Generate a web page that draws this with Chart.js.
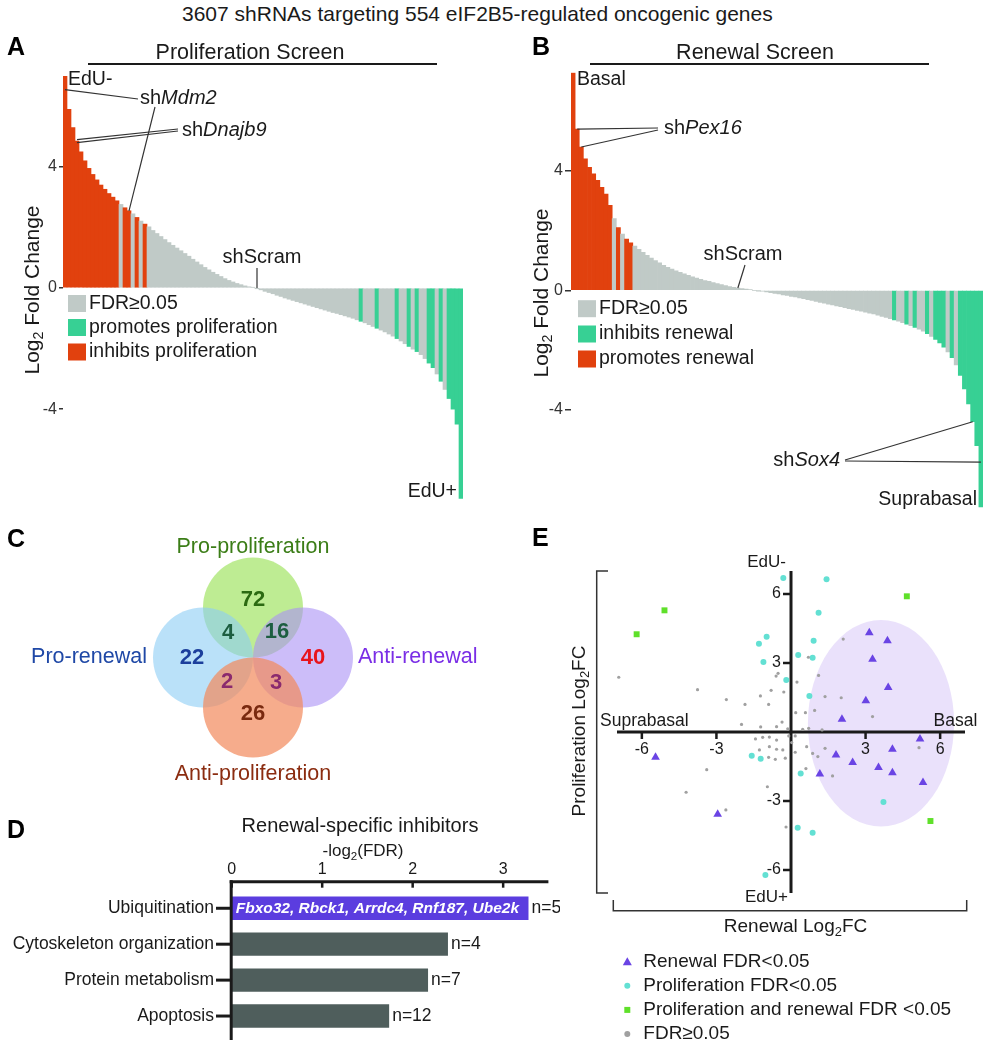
<!DOCTYPE html>
<html>
<head>
<meta charset="utf-8">
<title>eIF2B5 shRNA screens</title>
<script src="https://cdn.jsdelivr.net/npm/chart.js@4.4.1/dist/chart.umd.min.js"></script>
<style>
  html, body { margin: 0; padding: 0; background: #fff; }
  #page { position: relative; width: 995px; height: 1050px; overflow: hidden; }
  #page canvas { position: absolute; }
  #figTitle { position: absolute; left: 182px; top: 3px; white-space: nowrap;
    font: 21px 'Liberation Sans', Arial, sans-serif; line-height: 21px; color: #1a1a1a; }
</style>
</head>
<body>
<div id="page">
  <div id="figTitle">3607 shRNAs targeting 554 eIF2B5-regulated oncogenic genes</div>
  <canvas id="chartA" width="495" height="515" style="left:0;top:0"></canvas>
  <canvas id="chartB" width="500" height="520" style="left:495px;top:0"></canvas>
  <canvas id="chartC" width="506" height="275" style="left:0;top:520px"></canvas>
  <canvas id="chartD" width="560" height="250" style="left:0;top:800px"></canvas>
  <canvas id="chartE" width="475" height="530" style="left:520px;top:520px"></canvas>
</div>
<script>
// ---- A: proliferation screen, log2 fold change, shRNAs ranked high to low ----
const lfcProlif = [
  7.0, 5.9, 5.3, 4.85, 4.5, 4.2, 3.95, 3.75, 3.57, 3.4,
  3.26, 3.12, 3.0, 2.88, 2.76, 2.65, 2.55, 2.45, 2.33, 2.21,
  2.11, 2.02, 1.9, 1.8, 1.7, 1.6, 1.5, 1.41, 1.32, 1.23,
  1.14, 1.05, 0.95, 0.86, 0.77, 0.68, 0.6, 0.52, 0.45, 0.38,
  0.31, 0.25, 0.2, 0.15, 0.11, 0.07, 0.04, 0.02, -0.01, -0.06,
  -0.11, -0.15, -0.19, -0.24, -0.28, -0.33, -0.37, -0.41, -0.45, -0.49,
  -0.53, -0.57, -0.61, -0.65, -0.69, -0.73, -0.77, -0.81, -0.84, -0.88,
  -0.92, -0.96, -1.0, -1.05, -1.1, -1.15, -1.21, -1.27, -1.33, -1.39,
  -1.45, -1.52, -1.59, -1.67, -1.75, -1.84, -1.93, -2.02, -2.1, -2.2,
  -2.33, -2.48, -2.63, -2.84, -3.08, -3.35, -3.65, -4.0, -4.5, -6.95
];
// FDR class per bar: o = orange class, g = FDR>=0.05, t = green class
const classProlif = (
  'oooooooooo' + 'oooogoogog' + 'oggggggggg' + 'gggggggggg' + 'gggggggggg' +
  'gggggggggg' + 'gggggggggg' + 'ggggtgggtg' + 'gggtggtgtg' + 'gttgtgtttt').split('');
const legendProlif = { g: 'FDR≥0.05', t: 'promotes proliferation', o: 'inhibits proliferation' };

// ---- B: renewal screen ----
const lfcRenewal = [
  7.27, 5.4, 4.8, 4.4, 4.12, 3.9, 3.68, 3.45, 3.22, 2.85,
  2.4, 2.1, 1.88, 1.72, 1.59, 1.48, 1.37, 1.27, 1.17, 1.08,
  1.0, 0.92, 0.84, 0.77, 0.71, 0.65, 0.6, 0.55, 0.5, 0.45,
  0.41, 0.37, 0.33, 0.3, 0.26, 0.23, 0.19, 0.16, 0.13, 0.1,
  0.08, 0.06, 0.04, 0.02, 0.0, -0.01, -0.03, -0.05, -0.08, -0.1,
  -0.12, -0.15, -0.17, -0.2, -0.22, -0.25, -0.28, -0.31, -0.34, -0.37,
  -0.4, -0.43, -0.46, -0.49, -0.52, -0.55, -0.58, -0.61, -0.64, -0.67,
  -0.7, -0.73, -0.76, -0.79, -0.83, -0.87, -0.91, -0.95, -0.99, -1.03,
  -1.08, -1.13, -1.18, -1.24, -1.3, -1.37, -1.45, -1.54, -1.64, -1.76,
  -1.9, -2.06, -2.25, -2.5, -2.85, -3.3, -3.8, -4.4, -5.2, -7.25
];
const classRenewal = (
  'oooooooooo' + 'gogooggggg' + 'gggggggggg' + 'gggggggggg' + 'gggggggggg' +
  'gggggggggg' + 'gggggggggg' + 'ggggggggtg' + 'gtgtggtgtt' + 'tgtgtttttt').split('');
const legendRenewal = { g: 'FDR≥0.05', t: 'inhibits renewal', o: 'promotes renewal' };
const ticksScreen = [-4, 0, 4];

// ---- C: overlap of hits ----
const vennSets = ['Pro-proliferation', 'Pro-renewal', 'Anti-renewal', 'Anti-proliferation'];
const vennRegions = ['Pro-proliferation', 'Pro-proliferation & Pro-renewal', 'Pro-proliferation & Anti-renewal',
  'Pro-renewal', 'Anti-renewal', 'Pro-renewal & Anti-proliferation', 'Anti-renewal & Anti-proliferation', 'Anti-proliferation'];
const vennCounts = [72, 4, 16, 22, 40, 2, 3, 26];

// ---- D: renewal-specific inhibitors ----
const termsD = ['Ubiquitination', 'Cytoskeleton organization', 'Protein metabolism', 'Apoptosis'];
const fdrD = [3.28, 2.39, 2.17, 1.74];
const countsD = [5, 4, 7, 12];
const genesD = ['Fbxo32, Rbck1, Arrdc4, Rnf187, Ube2k', '', '', ''];
const ticksD = [0, 1, 2, 3];

// ---- E: renewal log2FC (x) vs proliferation log2FC (y) ----
const renewalHits = [[3.15, 4.32], [3.88, 3.97], [3.28, 3.16], [3.91, 1.93], [3.01, 1.36], [2.05, 0.55],
  [5.19, -0.3], [4.08, -0.75], [1.81, -1.0], [2.48, -1.33], [3.52, -1.54], [4.08, -1.77], [1.16, -1.83],
  [5.31, -2.2], [-5.45, -1.1], [-2.95, -3.58]];
const prolifHits = [[-0.31, 6.7], [1.43, 6.64], [1.11, 5.19], [-0.98, 4.14], [-1.29, 3.84], [0.91, 3.97],
  [0.29, 3.35], [0.87, 3.23], [-1.11, 3.04], [-0.19, 2.26], [0.74, 1.57], [-1.58, -1.03], [-1.22, -1.16],
  [0.39, -1.8], [3.72, -3.04], [0.27, -4.16], [0.87, -4.38], [-1.03, -6.22]];
const bothHits = [[-5.09, 5.29], [-6.21, 4.25], [4.66, 5.9], [5.61, -3.87]];
const notSig = [[-6.93, 2.38], [-3.76, 1.84], [-2.6, 1.41], [-1.85, 1.2], [-1.99, 0.33], [-1.22, 0.22],
  [-0.9, 1.2], [-1.23, 1.57], [-0.8, 1.81], [-0.6, 2.43], [-0.52, 2.55], [-0.29, 1.74], [0.24, 2.17],
  [0.7, 3.25], [1.11, 2.46], [2.1, 4.04], [1.37, 1.54], [2.02, 1.49], [0.19, 0.84], [0.58, 0.84],
  [0.95, 0.94], [3.28, 0.67], [-0.36, 0.43], [-0.13, 0.14], [-0.58, 0.23], [0.47, 0.12], [0.71, 0.16],
  [1.25, 0.09], [-1.43, -0.3], [-1.14, -0.23], [-0.87, -0.22], [-0.58, -0.35], [-0.09, -0.17], [0.17, -0.17],
  [-1.27, -0.78], [-0.87, -0.64], [-0.58, -0.75], [-0.33, -0.78], [0.03, -0.46], [0.63, -0.64], [0.87, -0.93],
  [1.08, -1.07], [1.37, -0.71], [-0.9, -1.1], [-0.63, -1.19], [-0.23, -1.14], [0.17, -0.88], [1.67, -1.91],
  [5.15, -0.68], [-3.39, -1.64], [-0.95, -2.38], [-4.22, -2.62], [-2.62, -3.39], [-0.2, -4.13], [0.6, -1.59]];
const ticksE = [-6, -3, 3, 6];

// ---------------------------------------------------------------
const FAM = "'Liberation Sans', Arial, Helvetica, sans-serif";
const INK = '#1a1a1a';
const barColor = { o: '#e1410e', g: '#c0cac7', t: '#37d094' };

function setFont(ctx, size, style) {
  ctx.font = (style ? style + ' ' : '') + size + 'px ' + FAM;
}
function text(ctx, str, x, y, size, align, color, style) {
  setFont(ctx, size, style);
  ctx.fillStyle = color || INK;
  ctx.textAlign = align || 'left';
  ctx.textBaseline = 'middle';
  ctx.fillText(str, x, y);
}
function line(ctx, x1, y1, x2, y2, w, color) {
  ctx.beginPath();
  ctx.moveTo(x1, y1);
  ctx.lineTo(x2, y2);
  ctx.lineWidth = w;
  ctx.strokeStyle = color || INK;
  ctx.stroke();
}
// parts: [text, kind] with kind '' normal, 'i' italic, 's' subscript
function richText(ctx, parts, x, y, size, align, color) {
  const fontFor = p => setFont(ctx, p[1] === 's' ? size * 0.68 : size, p[1] === 'i' ? 'italic' : '');
  const widths = parts.map(p => { fontFor(p); return ctx.measureText(p[0]).width; });
  const total = widths.reduce((a, b) => a + b, 0);
  let cx = align === 'center' ? x - total / 2 : align === 'right' ? x - total : x;
  ctx.fillStyle = color || INK;
  ctx.textAlign = 'left';
  ctx.textBaseline = 'middle';
  parts.forEach((p, k) => {
    fontFor(p);
    ctx.fillText(p[0], cx, p[1] === 's' ? y + size * 0.3 : y);
    cx += widths[k];
  });
}

// decorations for the two ranked screens (A, B)
function screenDeco(id, cfg) {
  return {
    id: id,
    afterDraw(chart) {
      const ctx = chart.ctx, xs = chart.scales.x, ys = chart.scales.y;
      const vals = chart.data.datasets[0].data;
      const at = t => [xs.getPixelForValue(t.i), ys.getPixelForValue(t.v !== undefined ? t.v : vals[t.i])];
      ctx.save();
      text(ctx, cfg.letter, cfg.letterX, 48, 25, 'left', '#000', 'bold');
      text(ctx, cfg.title, cfg.titleX, 53, 21.5, 'center');
      line(ctx, cfg.rule[0], 64, cfg.rule[1], 64, 2);

      ctx.save();
      ctx.translate(cfg.yTitle[0], cfg.yTitle[1]);
      ctx.rotate(-Math.PI / 2);
      richText(ctx, [['Log', ''], ['2', 's'], [' Fold Change', '']], 0, 0, 21, 'center');
      ctx.restore();

      text(ctx, cfg.topEnd[0], cfg.topEnd[1], cfg.topEnd[2], 19.5, 'left');
      text(ctx, cfg.bottomEnd[0], cfg.bottomEnd[1], cfg.bottomEnd[2], 19.5, 'right');

      cfg.callouts.forEach(c => {
        c.lines.forEach(l => {
          const p = at(l.to);
          line(ctx, l.from[0], l.from[1], p[0], p[1], 1.2, '#333');
        });
        richText(ctx, c.label, c.pos[0], c.pos[1], 20, c.align);
      });

      ['g', 't', 'o'].forEach((k, r) => {
        const y = cfg.legend.rows[r];
        ctx.fillStyle = barColor[k];
        ctx.fillRect(cfg.legend.x, y - 8.5, 18, 17);
        text(ctx, cfg.legend.labels[k], cfg.legend.x + 21, y, 19.5, 'left');
      });
      ctx.restore();
    }
  };
}

function screenChart(id, values, classes, layout, deco) {
  return new Chart(document.getElementById(id), {
    type: 'bar',
    data: {
      labels: values.map((v, i) => i + 1),
      datasets: [{
        data: values,
        backgroundColor: classes.map(c => barColor[c]),
        borderWidth: 0,
        barPercentage: 1,
        categoryPercentage: 1
      }]
    },
    options: {
      responsive: false,
      animation: false,
      devicePixelRatio: 1,
      layout: { padding: layout.padding },
      plugins: { legend: { display: false }, tooltip: { enabled: false } },
      scales: {
        x: { display: false },
        y: {
          min: -layout.range,
          max: layout.range,
          afterFit: s => { s.width = layout.axisWidth; },
          afterBuildTicks: s => { s.ticks = ticksScreen.map(v => ({ value: v })); },
          border: { display: false },
          grid: { drawOnChartArea: false, tickLength: layout.tickLength, color: '#333', lineWidth: 1.5 },
          ticks: { font: { family: FAM, size: 16 }, color: '#333', padding: 2 }
        }
      }
    },
    plugins: [deco]
  });
}

// A
screenChart('chartA', lfcProlif, classProlif,
  { padding: { top: 76, bottom: 15, right: 32, left: 0 }, range: 7, axisWidth: 63, tickLength: 4 },
  screenDeco('decoA', {
    letter: 'A', letterX: 7, title: 'Proliferation Screen', titleX: 250, rule: [88, 437],
    yTitle: [33, 290], topEnd: ['EdU-', 68, 80], bottomEnd: ['EdU+', 457, 492],
    callouts: [
      { label: [['sh', ''], ['Mdm2', 'i']], pos: [140, 98], align: 'left',
        lines: [{ from: [138, 99], to: { i: 0, v: 6.55 } }, { from: [155, 107], to: { i: 16 } }] },
      { label: [['sh', ''], ['Dnajb9', 'i']], pos: [182, 130], align: 'left',
        lines: [{ from: [178, 129], to: { i: 3, v: 4.9 } }, { from: [178, 131], to: { i: 3, v: 4.8 } }] },
      { label: [['shScram', '']], pos: [262, 257], align: 'center',
        lines: [{ from: [257, 268], to: { i: 48, v: 0 } }] }
    ],
    legend: { x: 68, rows: [303.5, 327.5, 352], labels: legendProlif }
  }));

// B
screenChart('chartB', lfcRenewal, classRenewal,
  { padding: { top: 72.3, bottom: 8.2, right: 12, left: 0 }, range: 7.3, axisWidth: 76, tickLength: 6 },
  screenDeco('decoB', {
    letter: 'B', letterX: 37, title: 'Renewal Screen', titleX: 260, rule: [95, 434],
    yTitle: [47, 293], topEnd: ['Basal', 82, 80], bottomEnd: ['Suprabasal', 482, 500],
    callouts: [
      { label: [['sh', ''], ['Pex16', 'i']], pos: [169, 128], align: 'left',
        lines: [{ from: [163, 128], to: { i: 1 } }, { from: [163, 130], to: { i: 2 } }] },
      { label: [['shScram', '']], pos: [248, 254], align: 'center',
        lines: [{ from: [250, 265], to: { i: 40 } }] },
      { label: [['sh', ''], ['Sox4', 'i']], pos: [345, 460], align: 'right',
        lines: [{ from: [350, 460], to: { i: 97 } }, { from: [350, 461], to: { i: 99, v: -5.75 } }] }
    ],
    legend: { x: 83, rows: [308.7, 334, 359], labels: legendRenewal }
  }));

// C: Venn drawn as bubbles on hidden unit scales (1 unit = 50 px)
const vennFill = ['rgba(150,225,80,0.62)', 'rgba(140,205,245,0.6)', 'rgba(170,145,245,0.6)', 'rgba(242,140,95,0.72)'];
const vennCentre = [[0, 1], [-1, 0], [1, 0], [0, -1]];
const decoC = {
  id: 'decoC',
  afterDraw(chart) {
    const ctx = chart.ctx, xs = chart.scales.x, ys = chart.scales.y;
    const P = (x, y) => [xs.getPixelForValue(x), ys.getPixelForValue(y)];
    const labelPos = [[0, 2.2, 'center'], [-2.12, 0, 'right'], [2.1, 0, 'left'], [0, -2.33, 'center']];
    const labelColor = ['#3b7d17', '#1f48a6', '#7a2ee6', '#8b2c10'];
    const regionPos = [[0, 1.15], [-0.5, 0.49], [0.48, 0.51], [-1.22, 0], [1.2, 0], [-0.52, -0.49], [0.46, -0.51], [0, -1.12]];
    const countColor = ['#2c6a12', '#1d5e40', '#1d5e40', '#1c3f9c', '#e8141c', '#8a2a6e', '#8a2a6e', '#7a2a10'];
    ctx.save();
    text(ctx, 'C', 7, 20, 25, 'left', '#000', 'bold');
    vennSets.forEach((s, i) => {
      const p = P(labelPos[i][0], labelPos[i][1]);
      text(ctx, s, p[0], p[1], 21.5, labelPos[i][2], labelColor[i]);
    });
    vennCounts.forEach((n, k) => {
      const p = P(regionPos[k][0], regionPos[k][1]);
      text(ctx, String(n), p[0], p[1], 22, 'center', countColor[k], 'bold');
    });
    ctx.restore();
  }
};
new Chart(document.getElementById('chartC'), {
  type: 'bubble',
  data: {
    datasets: [{
      label: 'hits',
      data: vennSets.map((s, i) => ({ x: vennCentre[i][0], y: vennCentre[i][1], r: 50 })),
      backgroundColor: vennFill,
      borderWidth: 0,
      clip: false
    }]
  },
  options: {
    responsive: false, animation: false, devicePixelRatio: 1,
    layout: { padding: 0, autoPadding: false },
    scales: { x: { display: false, min: -5.06, max: 5.06 }, y: { display: false, min: -2.75, max: 2.75 } },
    plugins: { legend: { display: false }, tooltip: { enabled: false } }
  },
  plugins: [decoC]
});

// D
const decoD = {
  id: 'decoD',
  afterDraw(chart) {
    const ctx = chart.ctx, xs = chart.scales.x, ys = chart.scales.y, a = chart.chartArea;
    const axY = 81.7;
    ctx.save();
    text(ctx, 'D', 7, 31, 25, 'left', '#000', 'bold');
    text(ctx, 'Renewal-specific inhibitors', 360, 26, 20, 'center');
    richText(ctx, [['-log', ''], ['2', 's'], ['(FDR)', '']], 363, 51.7, 17, 'center');
    line(ctx, a.left - 2, axY, a.right, axY, 3);
    line(ctx, a.left - 0.5, axY - 1.5, a.left - 0.5, 240, 3);
    ticksD.forEach(v => {
      const x = xs.getPixelForValue(v);
      line(ctx, x, axY, x, axY + 6, 2.5);
      text(ctx, String(v), x, 70, 16, 'center');
    });
    termsD.forEach((t, i) => {
      const y = ys.getPixelForValue(i);
      line(ctx, 216, y, a.left, y, 3);
      text(ctx, t, 214, y, 17.5, 'right');
      text(ctx, 'n=' + countsD[i], xs.getPixelForValue(fdrD[i]) + 3, y, 17.5, 'left');
      if (genesD[i]) text(ctx, genesD[i], a.left + 4, y, 15.5, 'left', '#fff', 'italic bold');
    });
    ctx.restore();
  }
};
new Chart(document.getElementById('chartD'), {
  type: 'bar',
  data: {
    labels: termsD,
    datasets: [{
      data: fdrD,
      backgroundColor: termsD.map((t, i) => i === 0 ? '#5b3ddf' : '#4f5e5c'),
      borderWidth: 0,
      barPercentage: 0.65,
      categoryPercentage: 1
    }]
  },
  options: {
    indexAxis: 'y',
    responsive: false, animation: false, devicePixelRatio: 1,
    layout: { padding: { left: 231.7, right: 11.6, top: 90.3, bottom: 16 } },
    scales: { x: { display: false, min: 0, max: 3.5 }, y: { display: false } },
    plugins: { legend: { display: false }, tooltip: { enabled: false } }
  },
  plugins: [decoD]
});

// E
const colE = { renewal: '#6a44e4', prolif: '#63e0d3', both: '#5fe02a', none: '#a0a0a0' };
function marker(ctx, kind, x, y, color) {
  ctx.fillStyle = color;
  ctx.beginPath();
  if (kind === 'triangle') {
    ctx.moveTo(x, y - 4.5); ctx.lineTo(x + 4.5, y + 3.5); ctx.lineTo(x - 4.5, y + 3.5); ctx.closePath();
  } else if (kind === 'rect') {
    ctx.rect(x - 3, y - 3, 6, 6);
  } else {
    ctx.arc(x, y, 3, 0, Math.PI * 2);
  }
  ctx.fill();
}
const decoE = {
  id: 'decoE',
  beforeDatasetsDraw(chart) {
    const ctx = chart.ctx, xs = chart.scales.x, ys = chart.scales.y, a = chart.chartArea;
    const x0 = xs.getPixelForValue(0), y0 = ys.getPixelForValue(0);
    ctx.save();
    // shaded region around renewal hits
    const cx = xs.getPixelForValue(3.62), cy = ys.getPixelForValue(0.38);
    ctx.beginPath();
    ctx.ellipse(cx, cy, xs.getPixelForValue(3.62 + 2.94) - cx, cy - ys.getPixelForValue(0.38 + 4.49), 0, 0, Math.PI * 2);
    ctx.fillStyle = 'rgba(214,196,248,0.5)';
    ctx.fill();
    // crossing axes
    line(ctx, a.left, y0, a.right, y0, 3);
    line(ctx, x0, a.top, x0, a.bottom, 3);
    ticksE.forEach(v => {
      const x = xs.getPixelForValue(v);
      line(ctx, x, y0, x, y0 + 7, 2.5);
      text(ctx, String(v), x, y0 + 18, 16, 'center');
      const y = ys.getPixelForValue(v);
      line(ctx, x0, y, x0 - 8, y, 2.5);
      text(ctx, String(v), x0 - 10, y, 16, 'right');
    });
    ctx.restore();
  },
  afterDraw(chart) {
    const ctx = chart.ctx, xs = chart.scales.x, ys = chart.scales.y, a = chart.chartArea;
    const x0 = xs.getPixelForValue(0);
    ctx.save();
    text(ctx, 'E', 12, 19, 25, 'left', '#000', 'bold');
    text(ctx, 'EdU-', x0 - 24.5, a.top - 8.5, 17, 'center');
    text(ctx, 'EdU+', x0 - 24.5, a.bottom + 4, 17, 'center');
    text(ctx, 'Suprabasal', 80, 201, 17.5, 'left');
    text(ctx, 'Basal', 457.3, 201, 17.5, 'right');
    // brackets
    ctx.beginPath();
    ctx.moveTo(88, a.top); ctx.lineTo(76.7, a.top); ctx.lineTo(76.7, a.bottom); ctx.lineTo(88, a.bottom);
    ctx.moveTo(93.3, 380); ctx.lineTo(93.3, 390.7); ctx.lineTo(446.7, 390.7); ctx.lineTo(446.7, 380);
    ctx.lineWidth = 1.5; ctx.strokeStyle = '#333'; ctx.stroke();
    ctx.save();
    ctx.translate(60, 211);
    ctx.rotate(-Math.PI / 2);
    richText(ctx, [['Proliferation Log', ''], ['2', 's'], ['FC', '']], 0, 0, 19, 'center');
    ctx.restore();
    richText(ctx, [['Renewal Log', ''], ['2', 's'], ['FC', '']], 275.5, 406.7, 19, 'center');
    // legend
    const rows = [
      ['triangle', colE.renewal, 'Renewal FDR<0.05'],
      ['circle', colE.prolif, 'Proliferation FDR<0.05'],
      ['rect', colE.both, 'Proliferation and renewal FDR <0.05'],
      ['circle', colE.none, 'FDR≥0.05']
    ];
    rows.forEach((r, k) => {
      const y = 441.7 + k * 24.1;
      marker(ctx, r[0], 107.3, y, r[1]);
      text(ctx, r[2], 123.3, y, 19, 'left');
    });
    ctx.restore();
  }
};
const pts = arr => arr.map(p => ({ x: p[0], y: p[1] }));
new Chart(document.getElementById('chartE'), {
  type: 'scatter',
  data: {
    datasets: [
      { label: 'FDR≥0.05', data: pts(notSig), pointStyle: 'circle', pointRadius: 1.6,
        pointBackgroundColor: colE.none, pointBorderWidth: 0 },
      { label: 'Proliferation FDR<0.05', data: pts(prolifHits), pointStyle: 'circle', pointRadius: 3,
        pointBackgroundColor: colE.prolif, pointBorderWidth: 0 },
      { label: 'Proliferation and renewal FDR <0.05', data: pts(bothHits), pointStyle: 'rect', pointRadius: 4.2,
        pointBackgroundColor: colE.both, pointBorderWidth: 0 },
      { label: 'Renewal FDR<0.05', data: pts(renewalHits), pointStyle: 'triangle', pointRadius: 5,
        pointBackgroundColor: colE.renewal, pointBorderWidth: 0 }
    ]
  },
  options: {
    responsive: false, animation: false, devicePixelRatio: 1,
    layout: { padding: { left: 97, right: 30, top: 51, bottom: 157 } },
    scales: { x: { display: false, min: -7, max: 7 }, y: { display: false, min: -7, max: 7 } },
    plugins: { legend: { display: false }, tooltip: { enabled: false } }
  },
  plugins: [decoE]
});
</script>
</body>
</html>
